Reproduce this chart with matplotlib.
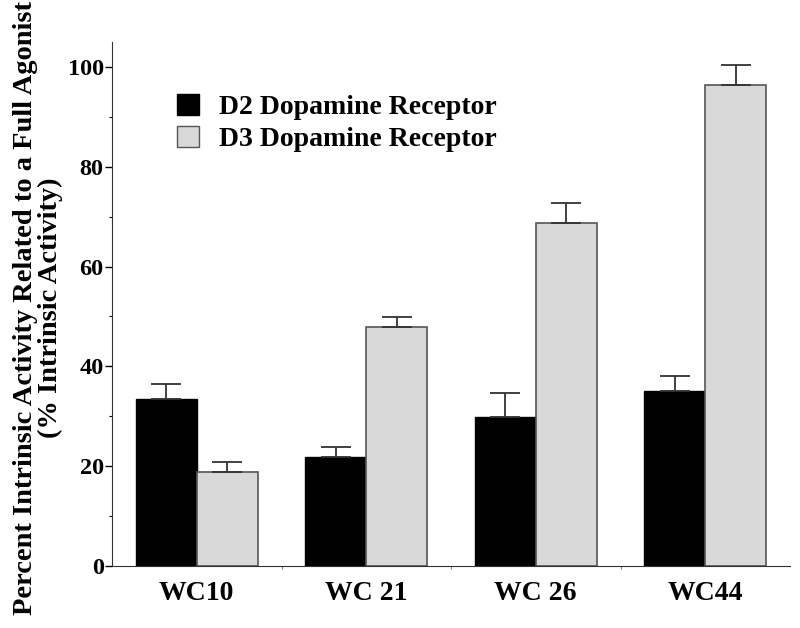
import numpy as np
import matplotlib
matplotlib.use('Agg')
from matplotlib import pyplot as plt
from matplotlib.patches import Patch

plt.rcParams['font.family'] = ['Liberation Serif', 'DejaVu Serif']
plt.rcParams['font.weight'] = 'bold'

compounds = ['WC10', 'WC 21', 'WC 26', 'WC44']
d2_mean = [33.5, 21.8, 29.8, 35.1]
d2_err = [3.0, 2.0, 4.8, 3.0]
d3_mean = [18.8, 47.9, 68.7, 96.4]
d3_err = [2.1, 2.0, 4.0, 4.0]
labels = ['D2 Dopamine Receptor', 'D3 Dopamine Receptor']

fig = plt.figure(figsize=(8, 6.28), dpi=100)
ax = fig.add_axes([0.14, 0.099, 0.8475, 0.834])

x = np.arange(len(compounds))
w = 0.36
no_err = [0] * len(compounds)

ax.bar(x - w / 2, d2_mean, w, color='black', edgecolor='black', linewidth=1,
       yerr=[no_err, d2_err], capsize=10.5,
       error_kw=dict(ecolor='#333333', elinewidth=1.3, capthick=1.3))
ax.bar(x + w / 2, d3_mean, w, color='#d9d9d9', edgecolor='#555555', linewidth=1.2,
       yerr=[no_err, d3_err], capsize=10.5,
       error_kw=dict(ecolor='#333333', elinewidth=1.3, capthick=1.3))

ax.set_xlim(-0.5, 3.5)
ax.set_ylim(0, 105)
ax.spines['top'].set_visible(False)
ax.spines['right'].set_visible(False)
ax.spines['left'].set_color('#333333')
ax.spines['bottom'].set_color('#333333')

ax.set_yticks([0, 20, 40, 60, 80, 100])
ax.set_yticks([10, 30, 50, 70, 90], minor=True)
ax.tick_params(axis='y', which='major', length=5, width=1, labelsize=17.5, pad=1)
ax.tick_params(axis='y', which='minor', length=2, width=0.8)

ax.set_xticks(x)
ax.set_xticklabels(compounds)
ax.tick_params(axis='x', which='major', length=0, labelsize=20, pad=11)
ax.set_xticks([0.5, 1.5, 2.5], minor=True)
ax.tick_params(axis='x', which='minor', length=2, width=0.8, color='#888888')

ax.set_ylabel('Percent Intrinsic Activity Related to a Full Agonist\n(% Intrinsic Activity)',
              fontsize=20.5, fontweight='bold', linespacing=1.0)
ax.yaxis.set_label_coords(-0.072, 0.492)

handles = [Patch(facecolor='black', edgecolor='black'),
           Patch(facecolor='#d9d9d9', edgecolor='#555555')]
ax.legend(handles, labels, loc='upper left', bbox_to_anchor=(0.059, 0.949),
          frameon=False, fontsize=20, handlelength=0.8, handleheight=0.8,
          handletextpad=0.72, labelspacing=0.2)

fig.savefig('out.png', dpi=100)
